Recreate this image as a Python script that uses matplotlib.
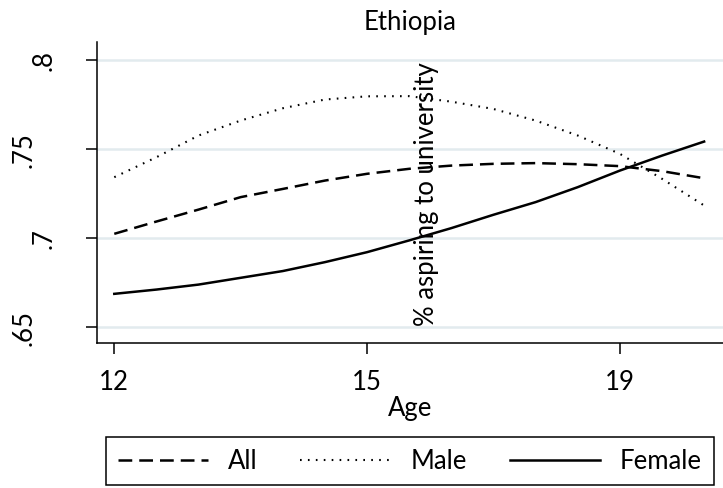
import matplotlib
matplotlib.use('Agg')
import matplotlib.pyplot as plt
from matplotlib.lines import Line2D

# ---------------- data ----------------
age_pos = [12, 12.5, 13, 13.5, 14, 14.5, 15, 15.5, 16, 16.5, 17, 17.5, 18, 18.5, 19]
all_share = [0.7022, 0.7091, 0.7158, 0.7228, 0.7274, 0.7321, 0.7359, 0.7387,
             0.7405, 0.7415, 0.7419, 0.7413, 0.7402, 0.7374, 0.7334]
male_share = [0.7340, 0.7452, 0.7574, 0.7658, 0.7727, 0.7776, 0.7794, 0.7795,
              0.7764, 0.7723, 0.7658, 0.7574, 0.7471, 0.7331, 0.7181]
female_share = [0.6685, 0.6709, 0.6737, 0.6775, 0.6813, 0.6863, 0.6919, 0.6985,
                0.7054, 0.7129, 0.7200, 0.7284, 0.7377, 0.7461, 0.7540]
xtick_pos = [12, 15, 18]
xtick_labels = ['12', '15', '19']
ytick_vals = [0.65, 0.70, 0.75, 0.80]
ytick_labels = ['.65', '.7', '.75', '.8']
series_labels = ['All', 'Male', 'Female']
title = 'Ethiopia'
xlabel = 'Age'
ylabel = '% aspiring to university'

# ---------------- style ----------------
plt.rcParams['font.family'] = ['Lato', 'DejaVu Sans']
FS = 18.5
W, H = 723, 489
fig = plt.figure(figsize=(W / 100, H / 100), dpi=100)
ax = fig.add_axes([97 / W, (H - 344) / H, 626 / W, (344 - 43) / H])

LW = 1.8
ls_all = (0, (5.5, 2.8))
ls_male = (0, (0.8, 3.0))
ax.plot(age_pos, female_share, color='black', lw=LW, zorder=3)
ax.plot(age_pos, all_share, color='black', lw=LW, linestyle=ls_all, zorder=3)
ax.plot(age_pos, male_share, color='black', lw=1.5, linestyle=ls_male, zorder=3)

ax.set_xlim(11.795, 19.224)
ax.set_ylim(0.6409, 0.8099)
ax.set_xticks(xtick_pos)
ax.set_xticklabels(xtick_labels)
ax.set_yticks(ytick_vals)
ax.set_yticklabels(ytick_labels, rotation=90, va='center')

ax.grid(axis='y', color='#e2ebee', lw=1.8)
ax.grid(axis='x', visible=False)
ax.set_axisbelow(True)
for s in ['top', 'right']:
    ax.spines[s].set_visible(False)
for s in ['left', 'bottom']:
    ax.spines[s].set_linewidth(1.1)
    ax.spines[s].set_color('black')

ax.tick_params(direction='out', length=8, width=1.1, color='black', labelsize=FS)
ax.tick_params(axis='x', pad=10.5)
ax.tick_params(axis='y', pad=21)
# alternate (staggered) y labels
for i, tk in enumerate(ax.yaxis.get_major_ticks()):
    if ytick_labels[i] in ('.65', '.75'):
        tk.set_pad(35.5)

ax.set_xlabel(xlabel, fontsize=FS, labelpad=1)
ax.set_title(title, fontsize=FS, pad=9.4)
ax.text(0.527, 0.498, ylabel, transform=ax.transAxes, rotation=90,
        ha='center', va='center', fontsize=FS, zorder=4)

handles = [Line2D([], [], color='black', lw=LW, linestyle=ls_all),
           Line2D([], [], color='black', lw=1.5, linestyle=ls_male),
           Line2D([], [], color='black', lw=LW)]
leg = fig.legend(handles, series_labels, ncol=3, loc='center',
                 bbox_to_anchor=(410 / W, 1 - 462 / H), fontsize=FS,
                 frameon=True, fancybox=False, framealpha=1, edgecolor='black',
                 handlelength=3.5, handletextpad=0.8, columnspacing=1.65,
                 borderpad=0.45, borderaxespad=0)
leg.get_frame().set_linewidth(1.1)

fig.savefig('out.png', dpi=100, facecolor='white')
